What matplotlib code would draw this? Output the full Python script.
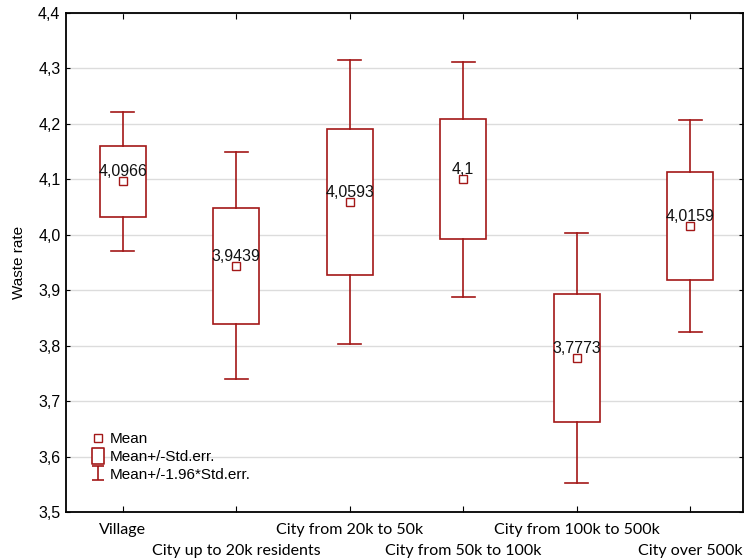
import matplotlib
matplotlib.use('Agg')
import matplotlib.pyplot as plt
from matplotlib.lines import Line2D
from matplotlib.path import Path
from matplotlib.ticker import FuncFormatter, MultipleLocator

# Data
categories = ['Village', 'City up to 20k residents', 'City from 20k to 50k',
              'City from 50k to 100k', 'City from 100k to 500k', 'City over 500k']
means = [4.0966, 3.9439, 4.0593, 4.1, 3.7773, 4.0159]
std_errs = [0.064, 0.1045, 0.131, 0.108, 0.115, 0.0975]

red = '#A31818'
plt.rcParams['font.family'] = ['Liberation Sans', 'DejaVu Sans']

fig = plt.figure(figsize=(7.44, 5.59), dpi=100)
ax = fig.add_axes([66 / 744, 47 / 559, 677 / 744, 499 / 559])

box_w = 0.405
cap_w = 0.2
for i, (m, se) in enumerate(zip(means, std_errs)):
    lo, hi = m - se, m + se
    wlo, whi = m - 1.96 * se, m + 1.96 * se
    # box
    ax.add_patch(plt.Rectangle((i - box_w / 2, lo), box_w, hi - lo,
                               facecolor='white', edgecolor=red, lw=1.2, zorder=3))
    # whiskers + caps
    ax.plot([i, i], [hi, whi], color=red, lw=1.2, zorder=3)
    ax.plot([i, i], [wlo, lo], color=red, lw=1.2, zorder=3)
    ax.plot([i - cap_w / 2, i + cap_w / 2], [whi, whi], color=red, lw=1.2, zorder=3)
    ax.plot([i - cap_w / 2, i + cap_w / 2], [wlo, wlo], color=red, lw=1.2, zorder=3)
    # mean marker
    ax.plot(i, m, marker='s', ms=5.5, mfc='white', mec=red, mew=1.0, zorder=4)
    ax.annotate(f'{m:g}'.replace('.', ','), xy=(i, m), xytext=(0, 7),
                textcoords='offset points', ha='center', va='center',
                fontsize=11.5, color='#111111', zorder=5)

ax.set_xlim(-0.5, 5.465)
ax.set_ylim(3.5, 4.4)
ax.yaxis.set_major_locator(MultipleLocator(0.1))
ax.yaxis.set_major_formatter(FuncFormatter(lambda v, p: f'{v:.1f}'.replace('.', ',')))
ax.grid(axis='y', color='#dcdcdc', lw=1.0, zorder=0)
ax.set_axisbelow(True)

ax.set_xticks(range(len(categories)))
ax.set_xticklabels(categories, fontsize=11.5, family=['Lato', 'DejaVu Sans'])
ax.tick_params(axis='x', direction='in', top=True, length=4, pad=8, color='black')
# stagger the labels: odd ones go on a second row
for i, t in enumerate(ax.xaxis.get_major_ticks()):
    if i % 2 == 1:
        t.set_pad(23)
ax.tick_params(axis='y', direction='in', right=True, length=3, labelsize=11.5, pad=4)
ax.set_ylabel('Waste rate', fontsize=11, labelpad=9)

for s in ax.spines.values():
    s.set_linewidth(1.3)
    s.set_color('black')

# legend handles
whisker_path = Path([(-0.9, -1), (0.9, -1), (0, -1), (0, 1), (-0.9, 1), (0.9, 1)],
                    [Path.MOVETO, Path.LINETO, Path.MOVETO, Path.LINETO, Path.MOVETO, Path.LINETO])
box_path = Path([(-0.4, -0.5), (0.4, -0.5), (0.4, 0.5), (-0.4, 0.5), (-0.4, -0.5)],
                [Path.MOVETO, Path.LINETO, Path.LINETO, Path.LINETO, Path.CLOSEPOLY])
handles = [
    Line2D([], [], ls='none', marker='s', ms=5.5, mfc='white', mec=red, mew=1.0),
    Line2D([], [], ls='none', marker=box_path, ms=11, mfc='white', mec=red, mew=1.2),
    Line2D([], [], ls='none', marker=whisker_path, ms=10, mfc='none', mec=red, mew=1.2),
]
ax.legend(handles, ['Mean', 'Mean+/-Std.err.', 'Mean+/-1.96*Std.err.'],
          loc='lower left', bbox_to_anchor=(0.015, 0.033), frameon=False,
          fontsize=11, handlelength=1.0, handletextpad=0.3, labelspacing=0.25)

fig.savefig('out.png', dpi=100)
